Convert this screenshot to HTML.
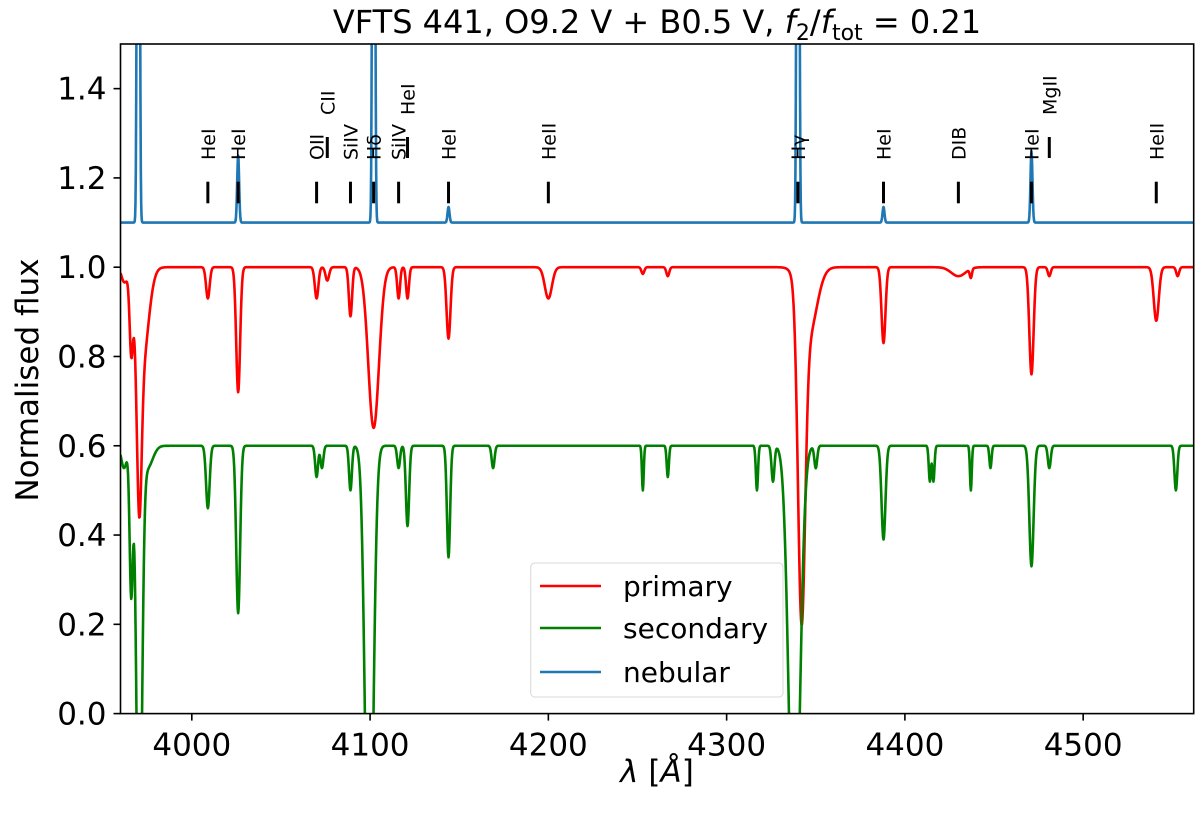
<!DOCTYPE html>
<html><head><meta charset="utf-8"><style>
body{margin:0;background:#fff}
svg{display:block;font-family:"DejaVu Sans","Liberation Sans",sans-serif}
</style></head><body>
<svg id="chart" width="1200" height="813" viewBox="0 0 1200 813" xmlns="http://www.w3.org/2000/svg">
<defs><clipPath id="clip"><rect x="120.5" y="44" width="1073.2" height="669.6"/></clipPath></defs>
<text x="657" y="33" text-anchor="middle" font-size="32">VFTS 441, O9.2 V + B0.5 V, <tspan font-style="italic">f</tspan><tspan font-size="22" dy="7">2</tspan><tspan dy="-7">/</tspan><tspan font-style="italic">f</tspan><tspan font-size="22" dy="7">tot</tspan><tspan dy="-7"> = 0.21</tspan></text>
<g id="plot" clip-path="url(#clip)"></g>
<g id="axes"></g>
<text transform="translate(38,380) rotate(-90)" text-anchor="middle" font-size="31">Normalised flux</text>
<text x="657" y="782" text-anchor="middle" font-size="31"><tspan font-style="italic">λ</tspan> [<tspan font-style="italic">Å</tspan>]</text>
<g>
<rect x="530.7" y="563" width="252.3" height="134" rx="4" fill="#fff" fill-opacity="0.8" stroke="#d8d8d8"/>
<line x1="540" x2="601" y1="586" y2="586" stroke="#ff0000" stroke-width="2.5"/>
<text x="623" y="596" font-size="28">primary</text>
<line x1="540" x2="601" y1="628" y2="628" stroke="#008000" stroke-width="2.5"/>
<text x="623" y="638" font-size="28">secondary</text>
<line x1="540" x2="601" y1="672" y2="672" stroke="#1f77b4" stroke-width="2.5"/>
<text x="623" y="682" font-size="28">nebular</text>
</g>
</svg>
<script>
// ---- data ----
const xTicks = [4000, 4100, 4200, 4300, 4400, 4500];
const yTicks = [0.0, 0.2, 0.4, 0.6, 0.8, 1.0, 1.2, 1.4];
const yTickLabels = ["0.0","0.2","0.4","0.6","0.8","1.0","1.2","1.4"];
// primary: continuum 1.0 (gaussian lines: centre, depth, sigma)
const pLam   = [3962,3966,3970.5,3972,4009,4026,4070,4076,4089,4102,4116,4121,4144,4200,4253,4267,4342,4346,4388,4430,4437,4471,4481,4541,4553];
const pDepth = [0.03,0.15,0.36,0.22,0.07,0.28,0.07,0.03,0.11,0.36,0.07,0.07,0.16,0.07,0.015,0.02,0.70,0.15,0.17,0.02,0.02,0.24,0.02,0.12,0.02];
const pWidth = [1.5,0.9,1.3,3.5,1,1.1,1,1,0.9,3,0.8,0.8,1.1,2,0.8,0.8,2,4.5,1.1,4,0.6,1.2,0.8,1.4,0.8];
// secondary: continuum 0.6
const sLam   = [3962,3966,3970.5,3975,4009,4026,4070,4073,4089,4099.5,4116,4121,4144,4169,4253,4267,4317,4326,4338,4350,4388,4414,4416,4437,4448,4471,4481,4552];
const sDepth = [0.05,0.33,1.0,0.05,0.14,0.375,0.07,0.05,0.1,1.1,0.05,0.18,0.25,0.05,0.1,0.07,0.1,0.08,1.0,0.05,0.21,0.08,0.08,0.1,0.05,0.27,0.05,0.1];
const sWidth = [1.5,0.9,1.5,3,1,1.1,0.8,0.8,0.8,2.2,0.8,0.9,0.9,0.8,0.5,0.6,0.6,0.8,3,0.8,1.1,0.6,0.6,0.5,0.6,1.2,0.8,0.8];
// nebular: baseline 1.1, emission heights
const nLam    = [3970,4026,4102,4144,4340,4388,4471];
const nHeight = [3,0.15,3,0.035,3,0.035,0.16];
// line identifications
const idLam   = [4009,4026,4070,4076,4089,4102,4116,4121,4144,4200,4340,4388,4430,4471,4481,4541];
const idLabel = ["HeI","HeI","OII","CII","SiIV","Hδ","SiIV","HeI","HeI","HeII","Hγ","HeI","DIB","HeI","MgII","HeII"];
const idRaised= [0,0,0,1,0,0,0,1,0,0,0,0,0,0,1,0];

// ---- axes functions ----
const X0=120.5, X1=1193.7, Y0=713.6, Y1=44;
const LMIN=3960, LMAX=4562, FMIN=0, FMAX=1.5;
const xs = l => X0 + (l-LMIN)/(LMAX-LMIN)*(X1-X0);
const ys = f => Y0 - (f-FMIN)/(FMAX-FMIN)*(Y0-Y1);
const NS="http://www.w3.org/2000/svg";
function mk(tag, attrs, parent){const e=document.createElementNS(NS,tag);for(const k in attrs)e.setAttribute(k,attrs[k]);parent.appendChild(e);return e;}
const plot=document.getElementById('plot'), axes=document.getElementById('axes');

function spectrum(cont, lam, depth, width){
  const pts=[];
  for(let l=LMIN;l<=LMAX;l+=0.25){
    let f=cont;
    for(let i=0;i<lam.length;i++){
      const d=(l-lam[i])/width[i];
      f -= depth[i]*Math.exp(-0.5*d*d);
    }
    pts.push(xs(l).toFixed(2)+','+ys(Math.max(f,-0.2)).toFixed(2));
  }
  return pts.join(' ');
}
function nebular(){
  const pts=[];
  for(let l=LMIN;l<=LMAX;l+=0.2){
    let f=1.1;
    for(let i=0;i<nLam.length;i++){const d=(l-nLam[i])/0.55;f+=nHeight[i]*Math.exp(-0.5*d*d);}
    pts.push(xs(l).toFixed(2)+','+ys(Math.min(f,1.6)).toFixed(2));
  }
  return pts.join(' ');
}
let e;
e=mk('polyline',{points:spectrum(1.0,pLam,pDepth,pWidth),fill:'none',stroke:'#ff0000','stroke-width':2.6,'stroke-linejoin':'round'},plot);


e=mk('polyline',{points:spectrum(0.6,sLam,sDepth,sWidth),fill:'none',stroke:'#008000','stroke-width':2.6,'stroke-linejoin':'round'},plot);


e=mk('polyline',{points:nebular(),fill:'none',stroke:'#1f77b4','stroke-width':2.6,'stroke-linejoin':'round'},plot);



// line markers
idLam.forEach((l,i)=>{
  const x=xs(l);
  const yb = idRaised[i]? 158:203.3, yt = idRaised[i]? 137:181.7, ylab = idRaised[i]? 115:160;
  const b=mk('line',{x1:x,x2:x,y1:yt,y2:yb,stroke:'#000','stroke-width':3},axes);
  
  
  const t=mk('text',{transform:`translate(${(x+7).toFixed(1)},${ylab}) rotate(-90)`,'font-size':19},axes);
  t.textContent=idLabel[i];
  
  
});

// frame
e=mk('rect',{x:X0,y:Y1,width:X1-X0,height:Y0-Y1,fill:'none',stroke:'#000','stroke-width':1.6},axes);


xTicks.forEach(t=>{
  const x=xs(t);
  const tk=mk('line',{x1:x,x2:x,y1:Y0,y2:Y0+7,stroke:'#000','stroke-width':1.6},axes);
  
  
  const lb=mk('text',{x:x,y:Y0+42,'text-anchor':'middle','font-size':31},axes);
  lb.textContent=String(t);
  
  
});
yTicks.forEach((t,i)=>{
  const y=ys(t);
  const tk=mk('line',{x1:X0-7,x2:X0,y1:y,y2:y,stroke:'#000','stroke-width':1.6},axes);
  
  
  const lb=mk('text',{x:X0-14,y:y+11,'text-anchor':'end','font-size':31},axes);
  lb.textContent=yTickLabels[i];
  
  
});
</script>
</body></html>
